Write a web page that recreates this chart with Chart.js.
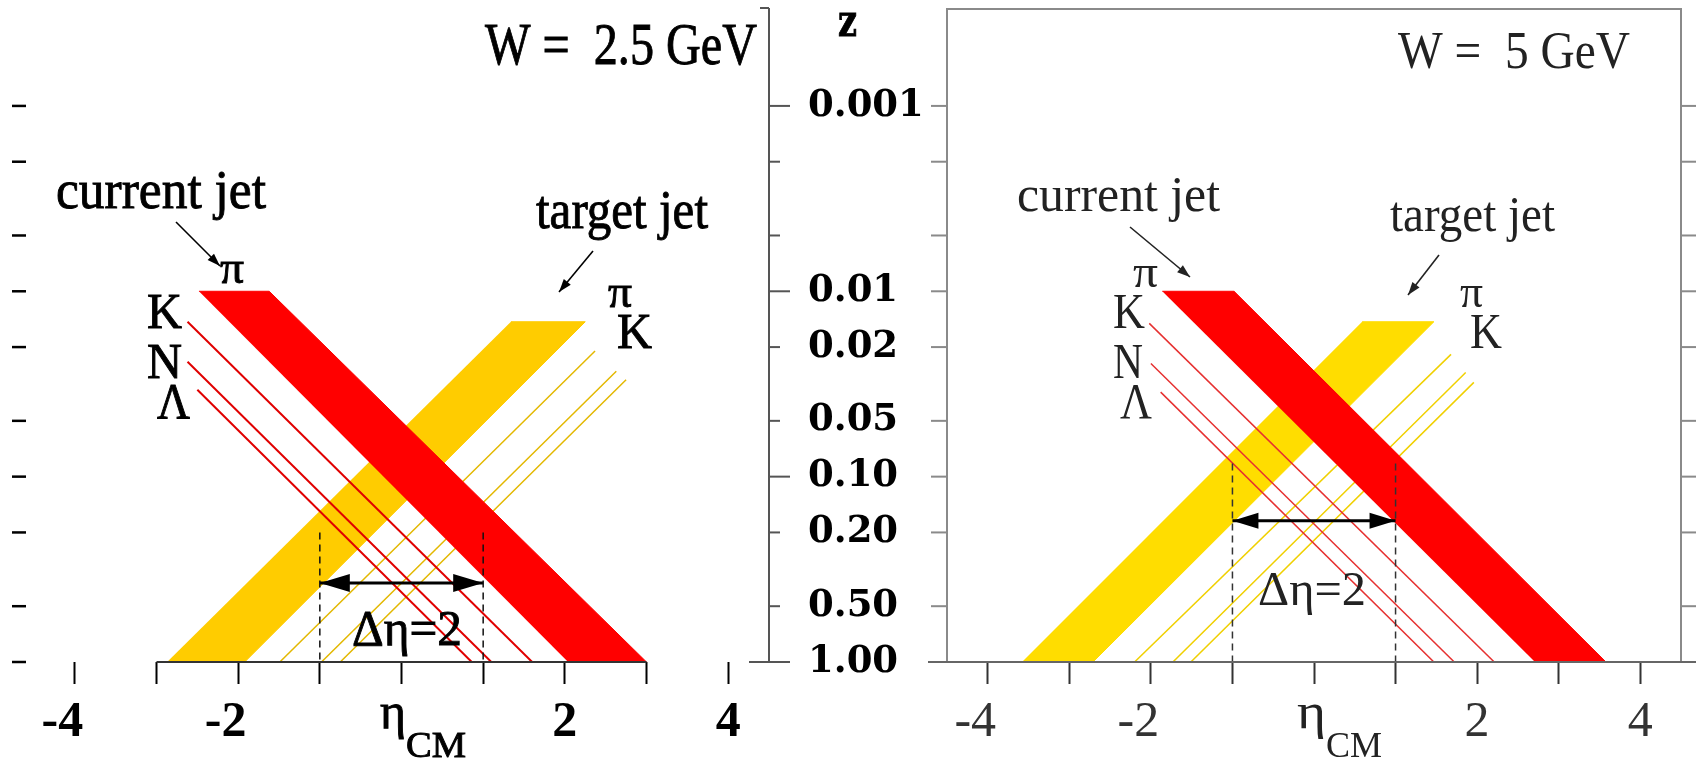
<!DOCTYPE html>
<html>
<head>
<meta charset="utf-8">
<script src="https://cdn.jsdelivr.net/npm/chart.js@4.4.0/dist/chart.umd.min.js"></script>
<style>
  html, body { margin: 0; padding: 0; background: #fff; }
  #wrap { position: relative; width: 1696px; height: 760px; overflow: hidden; }
  .panel { position: absolute; top: 0; height: 760px; }
  #left { left: 0; width: 940px; }
  #right { left: 920px; width: 776px; }
</style>
</head>
<body>
<div id="wrap">
  <div class="panel" id="left"><canvas id="chart-left"></canvas></div>
  <div class="panel" id="right"><canvas id="chart-right"></canvas></div>
</div>
<script>
"use strict";

// z axis (log, shared by both panels)
var zTicks  = [0.001, 0.002, 0.005, 0.01, 0.02, 0.05, 0.1, 0.2, 0.5, 1];
var zLabels = ["0.001", "", "", "0.01", "0.02", "0.05", "0.10", "0.20", "0.50", "1.00"];
var zMajor  = [0.001, 0.01, 0.1, 1];
var Z_MIN = 3.15e-4;

// eta_CM axis
var etaTicks  = [-4, -3, -2, -1, 0, 1, 2, 3, 4];
var etaLabels = ["-4", "", "-2", "", "", "", "2", "", "4"];
var gapEta = [-1, 1];              // the delta eta = 2 window

// band edges: eta at the top z and at z = 1
var redTopZ = 0.01, yellowTopZ = 0.0146, bottomZ = 1;

// W = 2.5 GeV
var lRedTop = [-2.48, -1.62];
var lRedBottom = [2.04, 3.00];
var lYellowTop = [1.34, 2.25];
var lYellowBottom = [-2.87, -1.92];
var lRedLineEta = [-2.62, -2.62, -2.50];     // K, N, Lambda start
var lRedLineZ = [0.0146, 0.024, 0.034];
var lRedLineEnd = [1.60, 1.10, 0.86];        // eta at z = 1
var lYelLineEta = [2.37, 2.63, 2.75];
var lYelLineZ = [0.021, 0.027, 0.030];
var lYelLineEnd = [-1.49, -0.98, -0.75];
var lGapZ = [0.2, 0.375];                    // dashed top, arrow level

// W = 5 GeV
var rRedTop = [-1.86, -0.98];
var rRedBottom = [2.71, 3.58];
var rYellowTop = [0.59, 1.47];
var rYellowBottom = [-3.58, -2.71];
var rRedLineEta = [-2.02, -2.00, -1.88];
var rRedLineZ = [0.0149, 0.0245, 0.035];
var rRedLineEnd = [2.21, 1.72, 1.47];
var rYelLineEta = [1.68, 1.86, 1.96];
var rYelLineZ = [0.0219, 0.0274, 0.031];
var rYelLineEnd = [-2.20, -1.73, -1.51];
var rGapZ = [0.085, 0.173];

function band(top, topZ, bottom) {
  return [{x: top[0], y: topZ}, {x: top[1], y: topZ},
          {x: bottom[1], y: bottomZ}, {x: bottom[0], y: bottomZ}];
}

function panelDatasets(p) {
  var ds = [];
  gapEta.forEach(function (e) {
    ds.push({ data: [{x: e, y: p.gapZ[0]}, {x: e, y: bottomZ}], borderColor: p.ink,
              borderWidth: 1.5, borderDash: [7, 5] });
  });
  ds.push({ data: [{x: gapEta[0], y: p.gapZ[1]}, {x: gapEta[1], y: p.gapZ[1]}],
            borderColor: '#000', borderWidth: 3, arrowHead: p.head });
  p.redEta.forEach(function (e, i) {
    ds.push({ data: [{x: e, y: p.redZ[i]}, {x: p.redEnd[i], y: bottomZ}],
              borderColor: p.redLine, borderWidth: p.redW });
  });
  ds.push({ data: band(p.redTop, redTopZ, p.redBottom), borderColor: '#ff0000',
            backgroundColor: '#ff0000', borderWidth: 1, fill: 'shape' });
  p.yelEta.forEach(function (e, i) {
    ds.push({ data: [{x: e, y: p.yelZ[i]}, {x: p.yelEnd[i], y: bottomZ}],
              borderColor: p.yelLine, borderWidth: 1.5 });
  });
  ds.push({ data: band(p.yelTop, yellowTopZ, p.yelBottom), borderColor: p.yel,
            backgroundColor: p.yel, borderWidth: 1, fill: 'shape' });
  return ds;
}

function noPad(s) {
  s.paddingTop = 0; s.paddingBottom = 0; s.paddingLeft = 0; s.paddingRight = 0;
}

function etaAxis(color, weight) {
  return {
    type: 'linear', min: -4.5, max: 4.5,
    afterBuildTicks: function (s) { s.ticks = etaTicks.map(function (v) { return {value: v}; }); },
    afterFit: function (s) { s.height = 98; noPad(s); },
    grid: { drawOnChartArea: false, tickLength: 22, tickWidth: 2, tickColor: color },
    border: { display: false },
    ticks: { autoSkip: false, maxRotation: 0, padding: 9, color: color,
             font: { family: 'Liberation Serif', size: 50, weight: weight },
             callback: function (v) {
               var s = etaLabels[etaTicks.indexOf(v)];
               return v < 0 && s ? s + '\u2002' : s;     // centre the digit, not the minus
             } }
  };
}

function zAxis(show) {
  return {
    type: 'logarithmic', position: 'right', reverse: true, min: Z_MIN, max: 1, display: show,
    afterBuildTicks: function (s) { s.ticks = zTicks.map(function (v) { return {value: v}; }); },
    afterFit: function (s) { if (show) s.width = 171; noPad(s); },
    grid: { display: false }, border: { display: false },
    ticks: { padding: 31, color: '#000', font: { family: 'DejaVu Serif', size: 37, weight: 'bold' },
             callback: function (v) { return zLabels[zTicks.indexOf(v)]; } }
  };
}

function line(ctx, x1, y1, x2, y2) {
  ctx.beginPath(); ctx.moveTo(x1, y1); ctx.lineTo(x2, y2); ctx.stroke();
}

function arrowHead(ctx, x1, y1, x2, y2, len, half) {
  var a = Math.atan2(y2 - y1, x2 - x1);
  ctx.beginPath();
  ctx.moveTo(x2, y2);
  ctx.lineTo(x2 - len * Math.cos(a) + half * Math.sin(a), y2 - len * Math.sin(a) - half * Math.cos(a));
  ctx.lineTo(x2 - len * Math.cos(a) - half * Math.sin(a), y2 - len * Math.sin(a) + half * Math.cos(a));
  ctx.closePath(); ctx.fill();
}

function drawText(ctx, it, o) {
  ctx.save();
  ctx.font = (it.bold ? 'bold ' : '') + it.size + 'px ' + (it.family || '"Liberation Serif"');
  var sx = it.w ? it.w / ctx.measureText(it.t).width : 1;
  ctx.translate(it.x - o.off, it.y);
  ctx.scale(sx, 1);
  ctx.fillStyle = o.color;
  ctx.textBaseline = 'alphabetic';
  ctx.fillText(it.t, 0, 0);
  if (o.heavy) {                      // scanned print looks heavier
    ctx.strokeStyle = o.color; ctx.lineWidth = o.heavy;
    ctx.strokeText(it.t, 0, 0);
  }
  ctx.restore();
}

// axes decoration, pointer arrows and labels
var decor = {
  id: 'decor',
  afterDraw: function (chart, args, o) {
    var ctx = chart.ctx, a = chart.chartArea, xS = chart.scales.x, yS = chart.scales.y;
    ctx.save();
    ctx.lineCap = 'butt';
    if (o.kind === 'left') {
      ctx.strokeStyle = '#555'; ctx.lineWidth = 2;
      line(ctx, a.right, 8, a.right, a.bottom);
      line(ctx, a.right - 9, 8, a.right, 8);
      line(ctx, a.right - 20, a.bottom, a.right, a.bottom);
      zTicks.forEach(function (v) {
        var y = yS.getPixelForValue(v);
        line(ctx, a.right, y, a.right + (zMajor.indexOf(v) >= 0 ? 21 : 11), y);
      });
      ctx.strokeStyle = '#000'; ctx.lineWidth = 2.5;
      zTicks.forEach(function (v) {
        var y = yS.getPixelForValue(v);
        line(ctx, 12, y, 26, y);
      });
      ctx.strokeStyle = '#333'; ctx.lineWidth = 2;
      line(ctx, xS.getPixelForValue(-3), a.bottom, xS.getPixelForValue(3), a.bottom);
    } else {
      ctx.strokeStyle = '#8a8a8a'; ctx.lineWidth = 2;
      ctx.strokeRect(a.left, a.top, a.right - a.left, a.bottom - a.top);
      zTicks.forEach(function (v) {
        var y = yS.getPixelForValue(v);
        line(ctx, a.left - 16, y, a.left, y);
        line(ctx, a.right, y, a.right + 15, y);
      });
      ctx.strokeStyle = '#666';
      line(ctx, a.left - 19, a.bottom, chart.width, a.bottom);
    }
    // delta eta double arrow heads
    ctx.fillStyle = '#000';
    chart.data.datasets.forEach(function (ds, i) {
      if (!ds.arrowHead) return;
      var pts = chart.getDatasetMeta(i).data;
      var p0 = pts[0], p1 = pts[1];
      arrowHead(ctx, p1.x, p1.y, p0.x, p0.y, ds.arrowHead[0], ds.arrowHead[1]);
      arrowHead(ctx, p0.x, p0.y, p1.x, p1.y, ds.arrowHead[0], ds.arrowHead[1]);
    });
    // pointer arrows
    ctx.strokeStyle = o.color; ctx.fillStyle = o.color; ctx.lineWidth = 1.6;
    o.pointers.forEach(function (p) {
      line(ctx, p[0] - o.off, p[1], p[2] - o.off, p[3]);
      arrowHead(ctx, p[0] - o.off, p[1], p[2] - o.off, p[3], 13, 4.5);
    });
    o.texts.forEach(function (it) { drawText(ctx, it, o); });
    ctx.restore();
  }
};

function makeChart(id, datasets, kind, decorOpts, padding) {
  decorOpts.kind = kind;
  var left = kind === 'left';
  return new Chart(document.getElementById(id), {
    type: 'line',
    data: { datasets: datasets },
    options: {
      responsive: true, maintainAspectRatio: false, animation: false, events: [],
      layout: { padding: padding },
      elements: { point: { radius: 0 }, line: { tension: 0 } },
      scales: { x: etaAxis(left ? '#000' : '#333', left ? 'bold' : 'normal'), y: zAxis(left) },
      plugins: { legend: { display: false }, tooltip: { enabled: false }, decor: decorOpts }
    },
    plugins: [decor]
  });
}

// W = 2.5 GeV
makeChart('chart-left', panelDatasets({
  ink: '#111', head: [30, 9], gapZ: lGapZ,
  redEta: lRedLineEta, redZ: lRedLineZ, redEnd: lRedLineEnd, redLine: '#e00000', redW: 2,
  redTop: lRedTop, redBottom: lRedBottom,
  yelEta: lYelLineEta, yelZ: lYelLineZ, yelEnd: lYelLineEnd, yelLine: '#e3b800',
  yelTop: lYellowTop, yelBottom: lYellowBottom, yel: '#ffcc00'
}), 'left', {
  off: 0, color: '#000', heavy: 0.9,
  pointers: [[176, 222, 220, 266], [593, 251, 559, 292]],
  texts: [
    {t: 'W =  2.5 GeV', x: 485, y: 64, size: 60, w: 272},
    {t: 'current jet', x: 56, y: 208, size: 54, w: 210},
    {t: 'target jet', x: 536, y: 228, size: 54, w: 172},
    {t: 'π', x: 220, y: 283, size: 46, w: 24},
    {t: 'K', x: 147, y: 328, size: 50, w: 35},
    {t: 'N', x: 147, y: 378, size: 50, w: 35},
    {t: 'Λ', x: 157, y: 418, size: 50, w: 33},
    {t: 'π', x: 608, y: 307, size: 46, w: 24},
    {t: 'K', x: 617, y: 348, size: 50, w: 35},
    {t: 'Δη=2', x: 352, y: 645, size: 50, w: 110},
    {t: 'η', x: 380, y: 728, size: 50, w: 26},
    {t: 'CM', x: 406, y: 757, size: 36, w: 60},
    {t: 'z', x: 838, y: 36, size: 44, w: 19, bold: true, family: '"DejaVu Serif"'}
  ]
}, { left: 34, top: 9, right: 0, bottom: 0 });

// W = 5 GeV
makeChart('chart-right', panelDatasets({
  ink: '#333', head: [26, 8], gapZ: rGapZ,
  redEta: rRedLineEta, redZ: rRedLineZ, redEnd: rRedLineEnd, redLine: '#e63030', redW: 1.5,
  redTop: rRedTop, redBottom: rRedBottom,
  yelEta: rYelLineEta, yelZ: rYelLineZ, yelEnd: rYelLineEnd, yelLine: '#f0d000',
  yelTop: rYellowTop, yelBottom: rYellowBottom, yel: '#ffdd00'
}), 'right', {
  off: 920, color: '#222', heavy: 0,
  pointers: [[1130, 227, 1190, 277], [1439, 255, 1408, 295]],
  texts: [
    {t: 'W =  5 GeV', x: 1398, y: 68, size: 52, w: 232},
    {t: 'current jet', x: 1017, y: 211, size: 50, w: 203},
    {t: 'target jet', x: 1390, y: 231, size: 50, w: 165},
    {t: 'π', x: 1133, y: 287, size: 46, w: 25},
    {t: 'K', x: 1113, y: 328, size: 50, w: 32},
    {t: 'N', x: 1113, y: 378, size: 50, w: 30},
    {t: 'Λ', x: 1120, y: 418, size: 50, w: 32},
    {t: 'π', x: 1460, y: 307, size: 46, w: 23},
    {t: 'K', x: 1470, y: 348, size: 50, w: 32},
    {t: 'Δη=2', x: 1258, y: 605, size: 48, w: 108},
    {t: 'η', x: 1297, y: 728, size: 50, w: 29},
    {t: 'CM', x: 1326, y: 757, size: 36, w: 56}
  ]
}, { left: 27, top: 9, right: 15, bottom: 0 });
</script>
</body>
</html>
